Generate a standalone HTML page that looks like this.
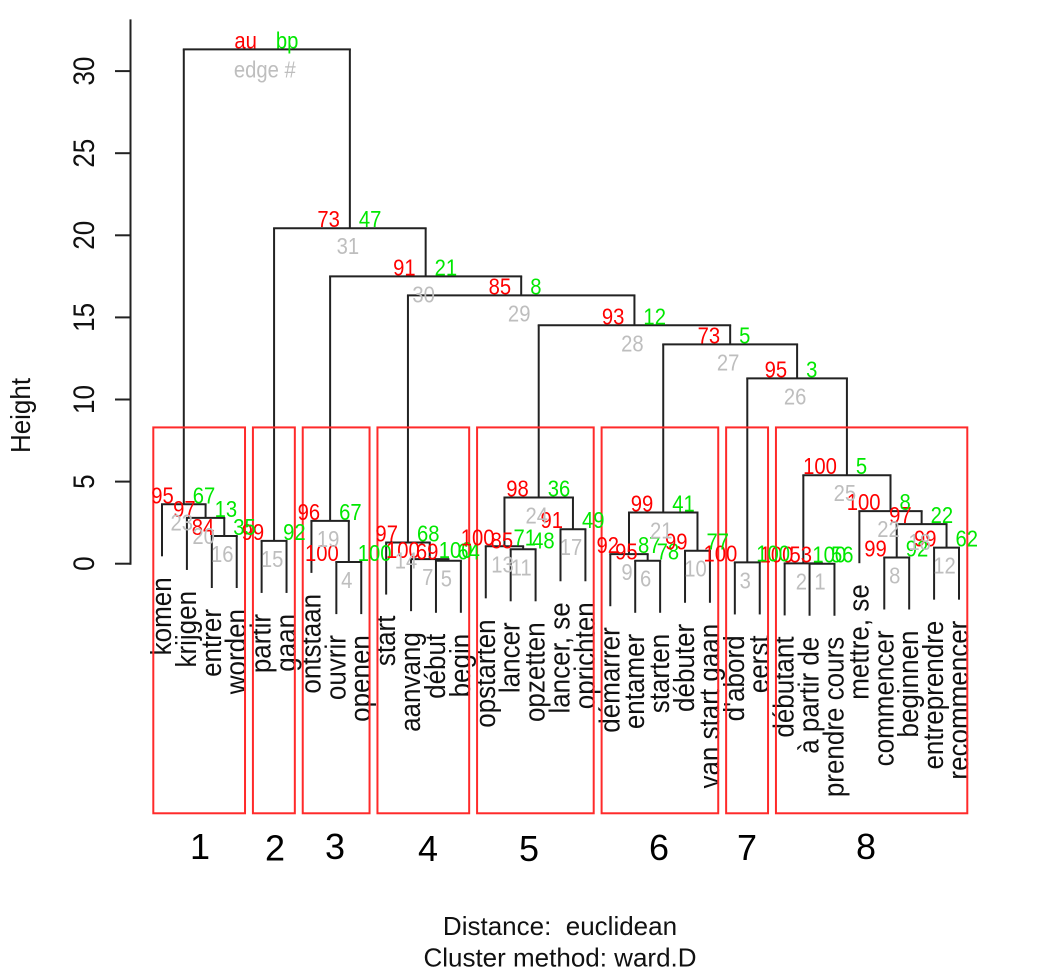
<!DOCTYPE html>
<html lang="en">
<head>
<meta charset="utf-8">
<title>Cluster dendrogram</title>
<style>
html,body{margin:0;padding:0;background:#fff;}
svg{display:block;font-family:"Liberation Sans",Arial,sans-serif;}
</style>
</head>
<body>
<svg id="chart" xmlns="http://www.w3.org/2000/svg" width="1058" height="976" viewBox="0 0 1058 976">
  <rect x="0" y="0" width="1058" height="976" fill="#fff"/>
  <g id="tree"></g>
  <g id="axis"></g>
  <g id="leaves"></g>
  <g id="boxes"></g>
  <g id="nodes"></g>
  <text transform="translate(30,415.5) rotate(-90) scale(1,1.08)" text-anchor="middle" font-size="26" fill="#111">Height</text>
  <g font-size="36" fill="#000" text-anchor="middle">
    <text x="200" y="859">1</text>
    <text x="275" y="860.5">2</text>
    <text x="335" y="859">3</text>
    <text x="428" y="861">4</text>
    <text x="529" y="861">5</text>
    <text x="659" y="860">6</text>
    <text x="747" y="860">7</text>
    <text x="866" y="859">8</text>
  </g>
  <text x="560" y="935" text-anchor="middle" font-size="26" fill="#111" xml:space="preserve">Distance:&#160; euclidean</text>
  <text x="560" y="966.5" text-anchor="middle" font-size="26" fill="#111">Cluster method: ward.D</text>
</svg>
<script>
const leafLabels = ["komen","krijgen","entrer","worden","partir","gaan","ontstaan","ouvrir","openen","start","aanvang","début","begin","opstarten","lancer","opzetten","lancer, se","oprichten","démarrer","entamer","starten","débuter","van start gaan","d'abord","eerst","débutant","à partir de","prendre cours","mettre, se","commencer","beginnen","entreprendre","recommencer"];
// hclust-style merges: negative = leaf number, positive = earlier merge number
const mergeLeft  = [-27,-26,-24,-8,-12,-20,-11,-30,-19,-22,-15,-32,-14,-10,-5,-3,-17,8,-7,-2,9,-29,-1,13,2,3,21,24,14,19,15,23];
const mergeRight = [-28,1,-25,-9,-13,-21,5,-31,6,-23,-16,-33,11,7,-6,-4,-18,12,4,16,10,18,20,17,22,25,26,27,28,29,30,31];
const mergeHeights = [0,0.02,0.08,0.1,0.18,0.18,0.28,0.38,0.58,0.79,0.88,0.98,1.06,1.29,1.39,1.69,2.1,2.41,2.61,2.79,3.12,3.2,3.62,4.03,5.39,11.29,13.36,14.52,16.34,17.5,20.43,31.32];
const auValues = [53,100,100,100,69,95,100,99,92,99,85,99,100,97,99,84,91,97,96,97,99,100,95,98,100,95,73,93,85,91,73,"au"];
const bpValues = [56,100,100,100,64,78,100,92,87,77,48,62,71,68,92,35,49,22,67,13,41,8,67,36,5,3,5,12,8,21,47,"bp"];
const edgeLabels = [1,2,3,4,5,6,7,8,9,10,11,12,13,14,15,16,17,18,19,20,21,22,23,24,25,26,27,28,29,30,31,"edge #"];
const yTicks = [0,5,10,15,20,25,30];
const clusterFirstLeaf = [1,5,7,10,14,19,24,26];
const clusterLastLeaf = [4,6,9,13,18,23,25,33];
const clusterTopHeight = 8.3;
const clusterBottomHeight = -15.2;
const hangHeight = 3.17;
const yAxisMax = 33.15;

const SVG_NS = "http://www.w3.org/2000/svg";
function xScale(leafNumber) { return 162 + (leafNumber - 1) * 24.906; }
function yScale(height) { return 563.7 - 16.42 * height; }

function make(parent, tag, attrs, content) {
  const el = document.createElementNS(SVG_NS, tag);
  for (const k in attrs) el.setAttribute(k, attrs[k]);
  if (content !== undefined) el.textContent = content;
  parent.appendChild(el);
  return el;
}

const treeG = document.getElementById("tree");
const axisG = document.getElementById("axis");
const leavesG = document.getElementById("leaves");
const boxesG = document.getElementById("boxes");
const nodesG = document.getElementById("nodes");
const nodeX = [];
const LINE = { stroke: "#222", "stroke-width": 2, fill: "none" };

function childX(ref) { return ref < 0 ? xScale(-ref) : nodeX[ref - 1]; }
function narrowAt(x, y) { return "translate(" + x + "," + y + ") scale(0.88,1)"; }

function drawChild(ref, topY) {
  const x = childX(ref);
  const bottomY = ref < 0 ? topY + (yScale(0) - yScale(hangHeight)) : yScale(mergeHeights[ref - 1]);
  const stem = make(treeG, "line", Object.assign({ x1: x, x2: x, y1: topY, y2: bottomY }, LINE));
  
  
  if (ref < 0) {
    const label = make(leavesG, "text", {
      transform: "translate(" + (x + 9) + "," + (bottomY + 21) + ") rotate(-90) scale(1,1.1)",
      "text-anchor": "end", "font-size": 26, fill: "#111"
    }, leafLabels[-ref - 1]);
    
    
  }
}

mergeHeights.forEach(function (height, i) {
  const xa = childX(mergeLeft[i]);
  const xb = childX(mergeRight[i]);
  const x = (xa + xb) / 2;
  nodeX[i] = x;
  const y = yScale(height);
  const bar = make(treeG, "line", Object.assign({ x1: xa - 1, x2: xb + 1, y1: y, y2: y }, LINE));
  
  
  drawChild(mergeLeft[i], y);
  drawChild(mergeRight[i], y);

  const au = make(nodesG, "text", { transform: narrowAt(x - 10, y - 1), "text-anchor": "end", "font-size": 23, fill: "#ff0000" }, auValues[i]);
  
  
  const bp = make(nodesG, "text", { transform: narrowAt(x + 9, y - 1), "font-size": 23, fill: "#00e800" }, bpValues[i]);
  
  
  const edgeOffset = i === mergeHeights.length - 1 ? 28 : 26;
  const edge = make(nodesG, "text", { transform: narrowAt(x - 2, y + edgeOffset), "text-anchor": "middle", "font-size": 23, fill: "#bebebe" }, edgeLabels[i]);
  
  
});

const axisLine = make(axisG, "line", Object.assign({ x1: 130.5, x2: 130.5, y1: yScale(0) + 1, y2: yScale(yAxisMax) }, LINE));


yTicks.forEach(function (tick) {
  const y = yScale(tick);
  const mark = make(axisG, "line", Object.assign({ x1: 115, x2: 130.5, y1: y, y2: y }, LINE));
  
  
  const label = make(axisG, "text", {
    transform: "translate(94," + y + ") rotate(-90) scale(1,1.14)",
    "text-anchor": "middle", "font-size": 26, fill: "#111"
  }, tick);
  
  
});

clusterFirstLeaf.forEach(function (first, i) {
  const x0 = xScale(first) - 8.7;
  const x1 = xScale(clusterLastLeaf[i]) + 8.3;
  const y0 = yScale(clusterTopHeight);
  const y1 = yScale(clusterBottomHeight);
  const box = make(boxesG, "rect", { x: x0, y: y0, width: x1 - x0, height: y1 - y0, fill: "none", stroke: "#ff2a2a", "stroke-width": 2 });
  
  
});
</script>
</body>
</html>
